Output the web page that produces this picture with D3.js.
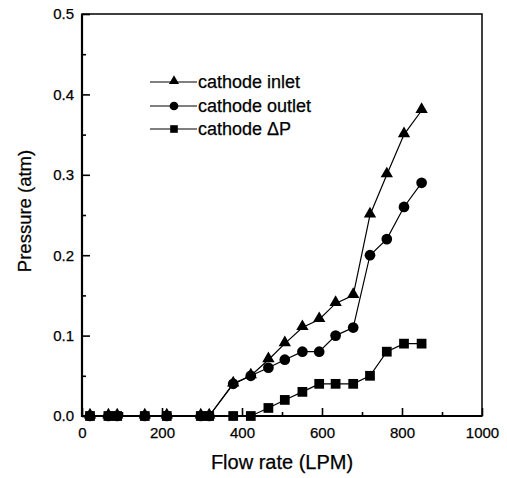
<!DOCTYPE html>
<html>
<head>
<meta charset="utf-8">
<script src="https://cdn.jsdelivr.net/npm/d3@7/dist/d3.min.js"></script>
<style>
  html, body { margin: 0; padding: 0; background: #fff; }
  svg { display: block; font-family: "Liberation Sans", Arial, sans-serif; }
  text { fill: #000; stroke: #000; stroke-width: 0.25px; }
</style>
</head>
<body>
<svg id="chart" width="507" height="478"></svg>
<script>
const flowRate = [20, 66, 88, 157, 212, 297, 318, 378, 422, 466, 507, 551, 593, 634, 678, 720, 762, 805, 849];
const cathodeInlet  = [0, 0, 0, 0, 0, 0, 0, 0.04, 0.05, 0.07, 0.09, 0.11, 0.12, 0.14, 0.15, 0.25, 0.30, 0.35, 0.38];
const cathodeOutlet = [0, 0, 0, 0, 0, 0, 0, 0.04, 0.05, 0.06, 0.07, 0.08, 0.08, 0.10, 0.11, 0.20, 0.22, 0.26, 0.29];
const cathodeDeltaP = [0, 0, 0, 0, 0, 0, 0, 0, 0, 0.01, 0.02, 0.03, 0.04, 0.04, 0.04, 0.05, 0.08, 0.09, 0.09];
const seriesNames = ["cathode inlet", "cathode outlet", "cathode \u0394P"];
const xMajorTicks = [0, 200, 400, 600, 800, 1000];
const xMinorTicks = [100, 300, 500, 700, 900];
const yMajorTicks = [0, 0.1, 0.2, 0.3, 0.4, 0.5];
const yMinorTicks = [0.05, 0.15, 0.25, 0.35, 0.45];

const svg = d3.select("#chart");
const L = 82, R = 482, T = 14, B = 416;
const x = d3.scaleLinear().domain([0, 1000]).range([L, R]);
const y = d3.scaleLinear().domain([0, 0.5]).range([B, T]);

// frame
svg.append("rect").attr("x", L).attr("y", T).attr("width", R - L).attr("height", B - T)
  .attr("fill", "none").attr("stroke", "#000").attr("stroke-width", 1.5);
svg.append("path").attr("d", `M${L},${T}V${B}H${R}`)
  .attr("fill", "none").attr("stroke", "#000").attr("stroke-width", 2.2);

// axes
const gx = svg.append("g").attr("transform", `translate(0,${B})`)
  .call(d3.axisBottom(x).tickValues(xMajorTicks).tickSize(-8).tickPadding(11).tickFormat(d3.format("d")));
const gxm = svg.append("g").attr("transform", `translate(0,${B})`)
  .call(d3.axisBottom(x).tickValues(xMinorTicks).tickSize(-4).tickFormat(""));
const gy = svg.append("g").attr("transform", `translate(${L},0)`)
  .call(d3.axisLeft(y).tickValues(yMajorTicks).tickSize(-8).tickPadding(8).tickFormat(d3.format(".1f")));
const gym = svg.append("g").attr("transform", `translate(${L},0)`)
  .call(d3.axisLeft(y).tickValues(yMinorTicks).tickSize(-4).tickFormat(""));
[gx, gxm, gy, gym].forEach(g => {
  g.select(".domain").remove();
  g.selectAll(".tick line").attr("stroke", "#000").attr("stroke-width", 1.6);
  g.selectAll(".tick text").attr("fill", "#000").style("font-size", "15px");
});

// axis titles
svg.append("text").attr("x", (L + R) / 2).attr("y", 469).attr("text-anchor", "middle")
  .style("font-size", "20px").text("Flow rate (LPM)");
svg.append("text").attr("transform", "translate(31,211) rotate(-90)").attr("text-anchor", "middle")
  .style("font-size", "18.5px").text("Pressure (atm)");

const seriesData = [cathodeInlet, cathodeOutlet, cathodeDeltaP];
const symbols = [d3.symbolTriangle, d3.symbolCircle, d3.symbolSquare];
const symSizes = [66, 90, 95];
const legSizes = [44, 60, 58];

const line = d3.line().x(d => x(d[0])).y(d => y(d[1]));
const plot = svg.append("g");

// draw DeltaP first, then outlet, then inlet
[2, 1, 0].forEach(i => {
  const pts = flowRate.map((f, k) => [f, seriesData[i][k]]);
  plot.append("path").datum(pts).attr("d", line)
    .attr("fill", "none").attr("stroke", "#000").attr("stroke-width", 1.2);
  plot.selectAll(null).data(pts).enter().append("path")
    .attr("transform", d => `translate(${x(d[0])},${y(d[1]) + (i === 0 ? -1 : 0)})`)
    .attr("d", d3.symbol().type(symbols[i]).size(symSizes[i]))
    .attr("fill", "#000");
});

// legend
const legY = [82, 106, 129];
const leg = svg.append("g");
seriesNames.forEach((name, i) => {
  leg.append("line").attr("x1", 150).attr("x2", 197).attr("y1", legY[i]).attr("y2", legY[i])
    .attr("stroke", "#000").attr("stroke-width", 1.2);
  leg.append("path").attr("transform", `translate(174,${legY[i] + (i === 0 ? -1 : 0)})`)
    .attr("d", d3.symbol().type(symbols[i]).size(legSizes[i])).attr("fill", "#000");
  leg.append("text").attr("x", 198).attr("y", legY[i]).attr("dy", "0.36em")
    .style("font-size", "18px").text(name);
});
</script>
</body>
</html>
